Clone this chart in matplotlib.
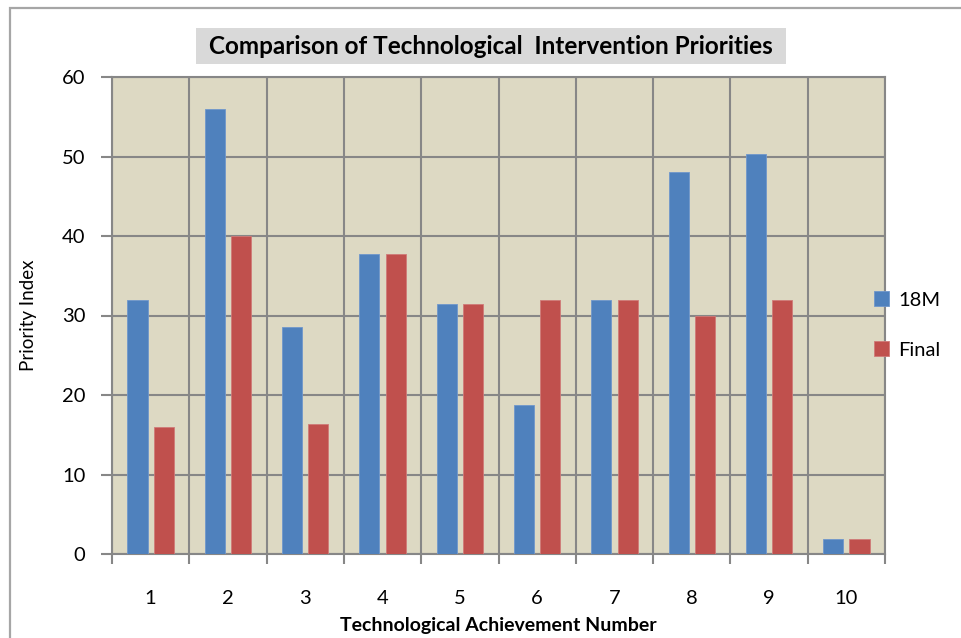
import numpy as np
import matplotlib
matplotlib.use("Agg")
import matplotlib.pyplot as plt
from matplotlib.patches import Rectangle

# Data
categories = [1, 2, 3, 4, 5, 6, 7, 8, 9, 10]
series_18m = [32.0, 56.0, 28.6, 37.7, 31.4, 18.8, 31.9, 48.0, 50.3, 1.9]
series_final = [16.0, 40.0, 16.3, 37.7, 31.4, 31.9, 31.9, 30.0, 31.9, 1.9]
y_ticks = [0, 10, 20, 30, 40, 50, 60]

title = "Comparison of Technological  Intervention Priorities"
x_label = "Technological Achievement Number"
y_label = "Priority Index"
legend_labels = ["18M", "Final"]

BLUE = "#4f81bd"
RED = "#c0504d"
PLOT_BG = "#ddd9c3"
GRID = "#878787"

plt.rcParams["font.family"] = ["Lato", "DejaVu Sans"]

W, H = 962, 638
fig = plt.figure(figsize=(W / 100, H / 100), dpi=100)

# Outer chart border
fig.patches.append(Rectangle((10 / W, -0.1), 1.2, (H - 8) / H + 0.1,
                             transform=fig.transFigure, fill=False,
                             edgecolor="#a6a6a6", linewidth=1.6, zorder=0))

ax = fig.add_axes([112 / W, (H - 554) / H, 773 / W, 477 / H])
ax.set_facecolor(PLOT_BG)

x = np.arange(len(categories)) + 1
width = 0.26
offset = 0.17
ax.bar(x - offset, series_18m, width, color=BLUE, edgecolor="#6f97cc",
       linewidth=0.6, label=legend_labels[0], zorder=3)
ax.bar(x + offset, series_final, width, color=RED, edgecolor="#d07a78",
       linewidth=0.6, label=legend_labels[1], zorder=3)

ax.set_xlim(0.5, len(categories) + 0.5)
ax.set_ylim(0, 60)

# Category labels at centres, tick marks / vertical grid at boundaries
ax.set_xticks(x)
ax.set_xticklabels([str(c) for c in categories])
ax.set_xticks(np.arange(0.5, len(categories) + 1, 1.0), minor=True)
ax.tick_params(axis="x", which="major", length=0, pad=26, labelsize=14.5)
ax.tick_params(axis="x", which="minor", length=7, width=1.5, color=GRID,
               direction="out")
ax.set_yticks(y_ticks)
ax.tick_params(axis="y", which="major", length=8, width=1.5, color=GRID,
               direction="out", pad=11, labelsize=14.5)

ax.grid(True, which="minor", axis="x", color=GRID, linewidth=1.5, zorder=1)
ax.grid(True, which="major", axis="y", color=GRID, linewidth=1.5, zorder=1)
ax.set_axisbelow(True)
for s in ax.spines.values():
    s.set_color(GRID)
    s.set_linewidth(1.5)

ax.set_xlabel(x_label, fontsize=14, fontweight="bold")
ax.set_ylabel(y_label, fontsize=13.5)
ax.yaxis.set_label_coords(-(112 - 37) / 773, 0.5)
ax.xaxis.set_label_coords(0.5, -(617 - 554) / 477)

# Title with grey box
fig.patches.append(Rectangle((196 / W, 1 - 64 / H), 590 / W, 36 / H,
                             transform=fig.transFigure, facecolor="#d9d9d9",
                             edgecolor="none", zorder=1))
fig.text(491 / W, 1 - 46 / H, title, ha="center", va="center",
         fontsize=17.5, fontweight="bold", zorder=2)

fig.legend(loc="center left", bbox_to_anchor=(866 / W, 1 - 325 / H),
           frameon=False, fontsize=14.5, handlelength=0.75, handleheight=0.75,
           handletextpad=0.45, labelspacing=1.6, borderaxespad=0)

fig.savefig("out.png", dpi=100)
